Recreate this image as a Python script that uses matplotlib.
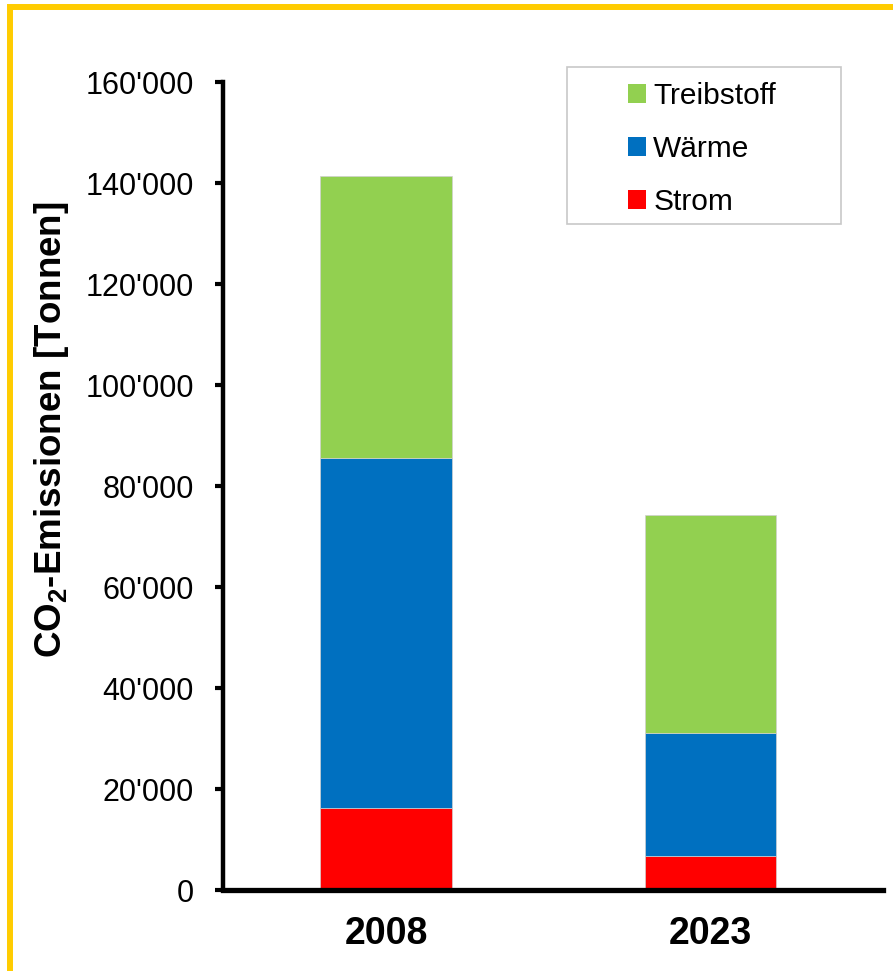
import matplotlib
matplotlib.use("Agg")
import matplotlib.pyplot as plt
from matplotlib.ticker import FuncFormatter
from matplotlib.patches import Rectangle, Patch
from matplotlib.lines import Line2D

plt.rcParams['font.family'] = ['Liberation Sans', 'DejaVu Sans']
plt.rcParams['mathtext.default'] = 'regular'

years = ["2008", "2023"]
series_names = ["Strom", "Wärme", "Treibstoff"]
strom = [16200, 6800]
waerme = [69400, 24300]
treibstoff = [55800, 43100]
colors = {"Strom": "#FF0000", "Wärme": "#0070C0", "Treibstoff": "#92D050"}
y_ticks = [0, 20000, 40000, 60000, 80000, 100000, 120000, 140000, 160000]

fig = plt.figure(figsize=(8.93, 9.71), dpi=100)
ax = fig.add_axes([0.2497, 0.0834, 0.9888 - 0.2497, 0.9155 - 0.0834])

x = list(range(len(years)))
bottom = [0, 0]
for name, vals in zip(series_names, [strom, waerme, treibstoff]):
    ax.bar(x, vals, width=0.405, bottom=bottom, color=colors[name],
           edgecolor='#d0d0d0', linewidth=0.5, label=name, zorder=2)
    bottom = [b + v for b, v in zip(bottom, vals)]

ax.set_xlim(-0.503, 1.532)
ax.set_ylim(0, 160000)
ax.set_yticks(y_ticks)
ax.yaxis.set_major_formatter(FuncFormatter(lambda v, p: f"{int(v):,}".replace(",", "'")))
ax.set_xticks(x)
ax.set_xticklabels(years, fontsize=27, fontweight='bold')

for s in ['top', 'right']:
    ax.spines[s].set_visible(False)
ax.spines['left'].set_linewidth(3.2)
ax.spines['bottom'].set_linewidth(3.8)
ax.spines['bottom'].set_zorder(3)
ax.tick_params(axis='y', direction='out', length=6, width=3, labelsize=22, pad=15)
ax.tick_params(axis='x', length=0, pad=19)

fig.text(52 / 893, 1 - 430 / 971, r'CO$_2$-Emissionen [Tonnen]', rotation=90,
         ha='center', va='center', fontsize=26.5, fontweight='bold')

# legend frame
x0 = (567 - 223) / 660
x1 = (841 - 223) / 660
y0 = (890 - 224) / 808
y1 = (890 - 67) / 808
ax.add_patch(Rectangle((x0, y0), x1 - x0, y1 - y0, transform=ax.transAxes,
                       facecolor='white', edgecolor='#c8c8c8', linewidth=1.2,
                       clip_on=False, zorder=4))
handles = [Patch(facecolor=colors[n], edgecolor='none', label=n) for n in series_names[::-1]]
leg = ax.legend(handles=handles, loc='center',
                bbox_to_anchor=((x0 + x1) / 2 - 0.003, (y0 + y1) / 2 - 0.004),
                frameon=False, fontsize=21.5, handlelength=0.6, handleheight=0.6,
                handletextpad=0.25, labelspacing=0.84, borderpad=0)
leg.set_zorder(5)

# yellow frame (top and left)
ytop = 1 - 7 / 971
xleft = 10 / 893
fig.add_artist(Line2D([xleft, xleft, 1.05], [-0.05, ytop, ytop], transform=fig.transFigure,
                      color='#FFCC00', linewidth=4.3, solid_joinstyle='miter'))

fig.savefig("out.png", dpi=100)
